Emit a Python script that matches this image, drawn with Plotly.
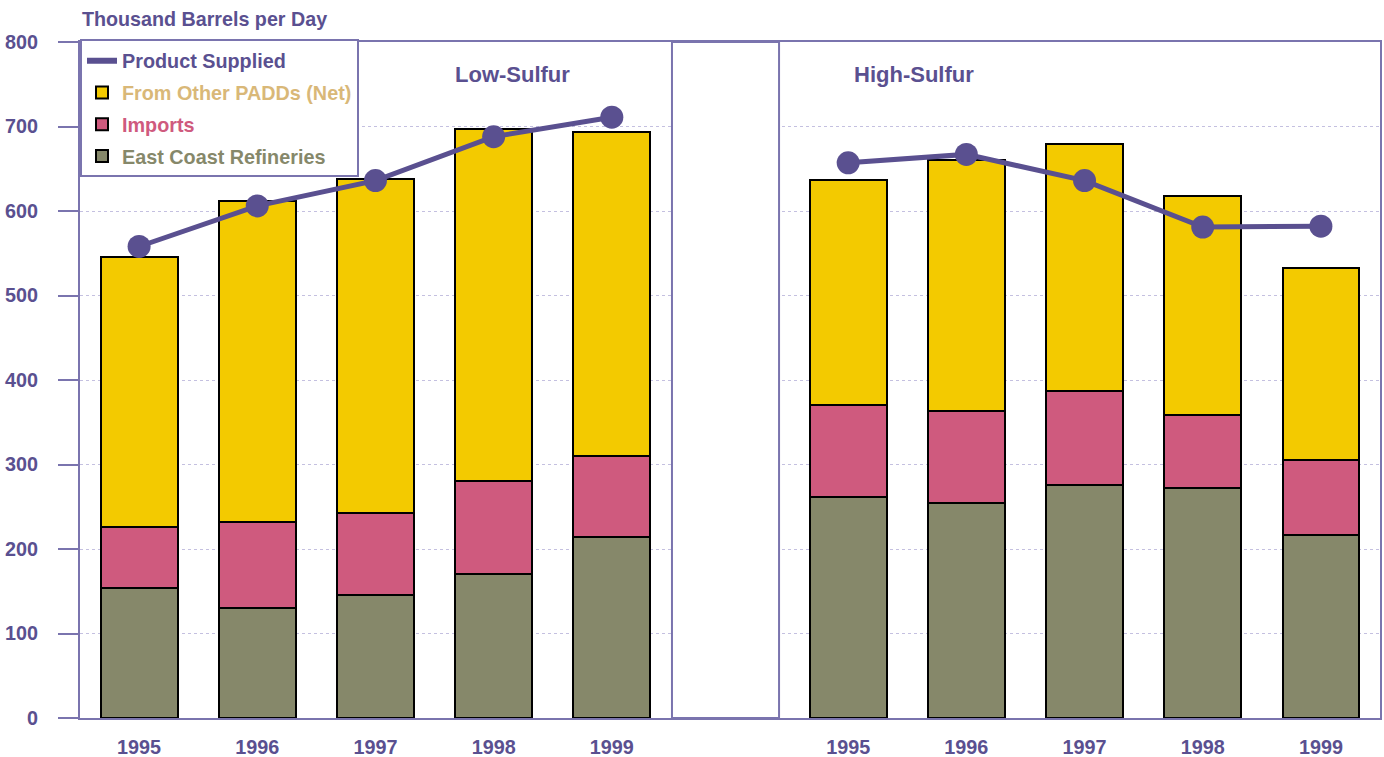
import plotly.graph_objects as go

# Years shown under each group of bars
years = ["1995", "1996", "1997", "1998", "1999"]

# Low-sulfur distillate supply (thousand barrels per day)
low_east_coast = [154, 130, 146, 170, 214]
low_imports = [72, 102, 97, 111, 96]
low_other_padds = [320, 380, 395, 416, 383]
low_product_supplied = [558, 606, 636, 688, 711]

# High-sulfur distillate supply (thousand barrels per day)
high_east_coast = [261, 254, 276, 272, 217]
high_imports = [109, 109, 111, 86, 88]
high_other_padds = [267, 297, 292, 260, 227]
high_product_supplied = [657, 667, 636, 581, 582]

y_ticks = [0, 100, 200, 300, 400, 500, 600, 700, 800]

# positions: five low-sulfur years, one empty slot, five high-sulfur years
x_low = list(range(5))
x_high = list(range(6, 11))
x_all = x_low + x_high
tick_text = years + years

PURPLE = "#5a5090"
AXIS = "#7a74ae"
FONT = "Liberation Sans"

fig = go.Figure()

bar_specs = [
    ("East Coast Refineries", low_east_coast, high_east_coast, "#86886a", "#86886a", 4),
    ("Imports", low_imports, high_imports, "#cf5a7e", "#cf5a7e", 3),
    ("From Other PADDs (Net)", low_other_padds, high_other_padds, "#f3ca00", "#d9b878", 2),
]
for name, lo, hi, color, text_color, rank in bar_specs:
    fig.add_trace(go.Bar(
        x=x_all, y=lo + hi,
        name=f"<span style='color:{text_color}'>{name}</span>",
        legendgroup=name, legendrank=rank,
        marker=dict(color=color, line=dict(color="#000000", width=2)),
        width=0.65,
    ))

# product supplied line, one segment per sulfur group
for xs, ys in [(x_low, low_product_supplied), (x_high, high_product_supplied)]:
    fig.add_trace(go.Scatter(
        x=xs, y=ys, mode="lines+markers",
        line=dict(color=PURPLE, width=5),
        marker=dict(color=PURPLE, size=23),
        showlegend=False, legendgroup="ps",
    ))
# legend entry for product supplied (line only)
fig.add_trace(go.Scatter(
    x=[None], y=[None], mode="lines",
    line=dict(color=PURPLE, width=6),
    name=f"<span style='color:{PURPLE}'>Product Supplied</span>",
    legendgroup="ps", legendrank=1,
))

# empty box separating the two groups
fig.add_shape(type="rect", xref="x", yref="y", x0=4.509, x1=5.415, y0=0, y1=800,
              fillcolor="white", line=dict(color=AXIS, width=2), layer="between")

fig.add_annotation(x=3.16, y=761, xref="x", yref="y", text="Low-Sulfur", showarrow=False,
                   font=dict(family=FONT, size=22, color=PURPLE, weight="bold"))
fig.add_annotation(x=6.56, y=761, xref="x", yref="y", text="High-Sulfur", showarrow=False,
                   font=dict(family=FONT, size=22, color=PURPLE, weight="bold"))
fig.add_annotation(x=0, y=1.034, xref="paper", yref="paper", xanchor="left", yanchor="middle",
                   text="Thousand Barrels per Day", showarrow=False,
                   font=dict(family=FONT, size=19.7, color=PURPLE, weight="bold"))

fig.update_layout(
    width=1384, height=757,
    margin=dict(l=80, r=4, t=42, b=39),
    barmode="stack",
    plot_bgcolor="white", paper_bgcolor="white",
    font=dict(family=FONT, color=PURPLE),
    legend=dict(
        x=0, y=1.004, xanchor="left", yanchor="top",
        bgcolor="white", bordercolor=AXIS, borderwidth=2,
        traceorder="grouped", tracegroupgap=3,
        font=dict(family=FONT, size=19.8, weight="bold"),
    ),
    xaxis=dict(
        range=[-0.5, 10.5], tickvals=x_all, ticktext=tick_text,
        showline=True, linecolor=AXIS, linewidth=2, mirror=True,
        showgrid=False, zeroline=False, ticks="", automargin=False,
        tickfont=dict(family=FONT, size=19.8, color=PURPLE, weight="bold"),
        ticklabelstandoff=10,
    ),
    yaxis=dict(
        range=[0, 800], tickvals=y_ticks, automargin=False,
        showline=True, linecolor=AXIS, linewidth=2, mirror=True,
        ticks="outside", ticklen=20, tickcolor=AXIS, tickwidth=2,
        showgrid=True, gridcolor="#c4c0e0", griddash="dot", gridwidth=1,
        zeroline=False,
        tickfont=dict(family=FONT, size=19.8, color=PURPLE, weight="bold"),
        ticklabelstandoff=16,
    ),
)

fig.write_html("out.html")
